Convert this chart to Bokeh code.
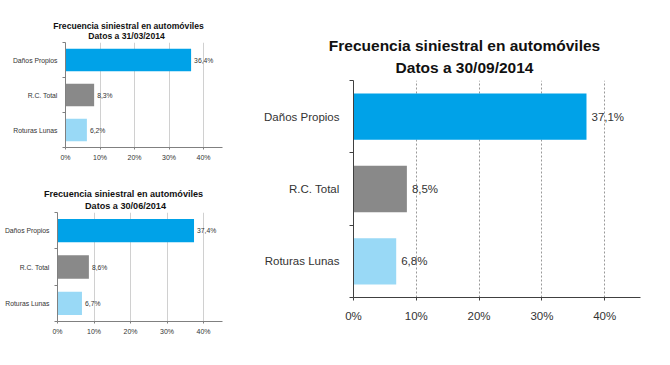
from bokeh.plotting import figure
from bokeh.models import Range1d, FixedTicker, PrintfTickFormatter, ColumnDataSource
from bokeh.layouts import row, column
from bokeh.embed import file_html
from bokeh.resources import INLINE
from bokeh.core.properties import value

# ---- data ----
categories = ["Daños Propios", "R.C. Total", "Roturas Lunas"]
bar_colors = ["#00a2e8", "#898989", "#99d9f6"]
frec_mar = [36.4, 8.3, 6.2]
frec_jun = [37.4, 8.6, 6.7]
frec_sep = [37.1, 8.5, 6.8]
x_ticks = [0, 10, 20, 30, 40]
title_line1 = "Frecuencia siniestral en automóviles"
title_mar = "Datos a 31/03/2014"
title_jun = "Datos a 30/06/2014"
title_sep = "Datos a 30/09/2014"

FONT = "Liberation Sans"


def make_title(w, h, line2, fs, pos1, pos2):
    t = figure(width=w, height=h, x_range=Range1d(0, w), y_range=Range1d(0, h),
               min_border=0, frame_align=False,
               output_backend="svg", toolbar_location=None, tools="")
    t.axis.visible = False
    t.grid.visible = False
    t.outline_line_color = None
    src = ColumnDataSource(dict(x=[pos1[0], pos2[0]], y=[h - pos1[1], h - pos2[1]],
                                t=[title_line1, line2]))
    t.text(x="x", y="y", text="t", source=src, text_align="center",
           text_baseline="alphabetic", text_font=value(FONT), text_font_style="bold",
           text_font_size=f"{fs}px", text_color="#111111")
    return t


def make_chart(vals, fw, fh, bl, br, bt, bb, xmax, fs_lab, fs_tick, grid_dash,
               grid_color, axis_color, cat_standoff, x_standoff, val_off, tick_len):
    n = len(categories)
    ypos = [n - 1 - i + 0.5 for i in range(n)]
    labels = [("%.1f" % v).replace(".", ",") + "%" for v in vals]
    src = ColumnDataSource(dict(y=ypos, v=vals, c=bar_colors, t=labels))
    p = figure(frame_width=fw, frame_height=fh, min_border_left=bl, min_border_right=br,
               min_border_top=bt, min_border_bottom=bb, frame_align=False,
               x_range=Range1d(0, xmax), y_range=Range1d(0, n),
               output_backend="svg", toolbar_location=None, tools="")
    p.outline_line_color = None
    p.hbar(y="y", right="v", left=0, height=0.64, fill_color="c", line_color=None, source=src)
    p.text(x="v", y="y", text="t", source=src, x_offset=val_off, text_baseline="middle",
           text_align="left", text_font=value(FONT), text_font_size=f"{fs_lab}px",
           text_color="#333333")
    xa = p.xaxis[0]
    xa.ticker = FixedTicker(ticks=x_ticks)
    xa.formatter = PrintfTickFormatter(format="%d%%")
    xa.major_tick_in = 0
    xa.major_tick_out = tick_len
    xa.minor_tick_out = 0
    xa.minor_tick_in = 0
    xa.axis_line_color = axis_color
    xa.major_tick_line_color = axis_color
    xa.major_label_text_font = FONT
    xa.major_label_text_font_size = f"{fs_tick}px"
    xa.major_label_text_color = "#333333"
    xa.major_label_standoff = x_standoff
    ya = p.yaxis[0]
    ya.ticker = FixedTicker(ticks=ypos, minor_ticks=list(range(n + 1)))
    ya.major_label_overrides = {yy: c for yy, c in zip(ypos, categories)}
    ya.major_tick_in = 0
    ya.major_tick_out = 0
    ya.minor_tick_in = 0
    ya.minor_tick_out = tick_len + 1
    ya.axis_line_color = axis_color
    ya.minor_tick_line_color = axis_color
    ya.major_label_text_font = FONT
    ya.major_label_text_font_size = f"{fs_lab}px"
    ya.major_label_text_color = "#333333"
    ya.major_label_standoff = cat_standoff
    p.ygrid.grid_line_color = None
    p.xgrid.ticker = FixedTicker(ticks=x_ticks[1:])
    p.xgrid.grid_line_color = grid_color
    p.xgrid.grid_line_dash = grid_dash
    return p


LW = 250
t1 = make_title(LW, 40, title_mar, 8.6, (128, 25), (126, 35))
p1 = make_chart(frec_mar, 157, 105, 65, LW - 222, 2, 31, 45.5,
                6.8, 7, "solid", "#d0d0d0", "#808080", 5, 4, 3, 2)
t2 = make_title(LW, 32, title_jun, 9.1, (123, 15), (125, 27))
p2 = make_chart(frec_jun, 165, 109, 57, LW - 222, 2, 27, 45.2,
                6.8, 7, "solid", "#d0d0d0", "#808080", 5, 4, 3, 2)
t3 = make_title(412, 76, title_sep, 15.5, (464 - LW, 45), (464 - LW, 67))
p3 = make_chart(frec_sep, 287, 217, 353 - LW, 22, 4, 51, 45.7,
                11.5, 11.5, "2 2", "#999999", "#404040", 10, 9, 5, 3)

layout = row(column(t1, p1, t2, p2), column(t3, p3))
open("out.html", "w").write(file_html(layout, INLINE))
